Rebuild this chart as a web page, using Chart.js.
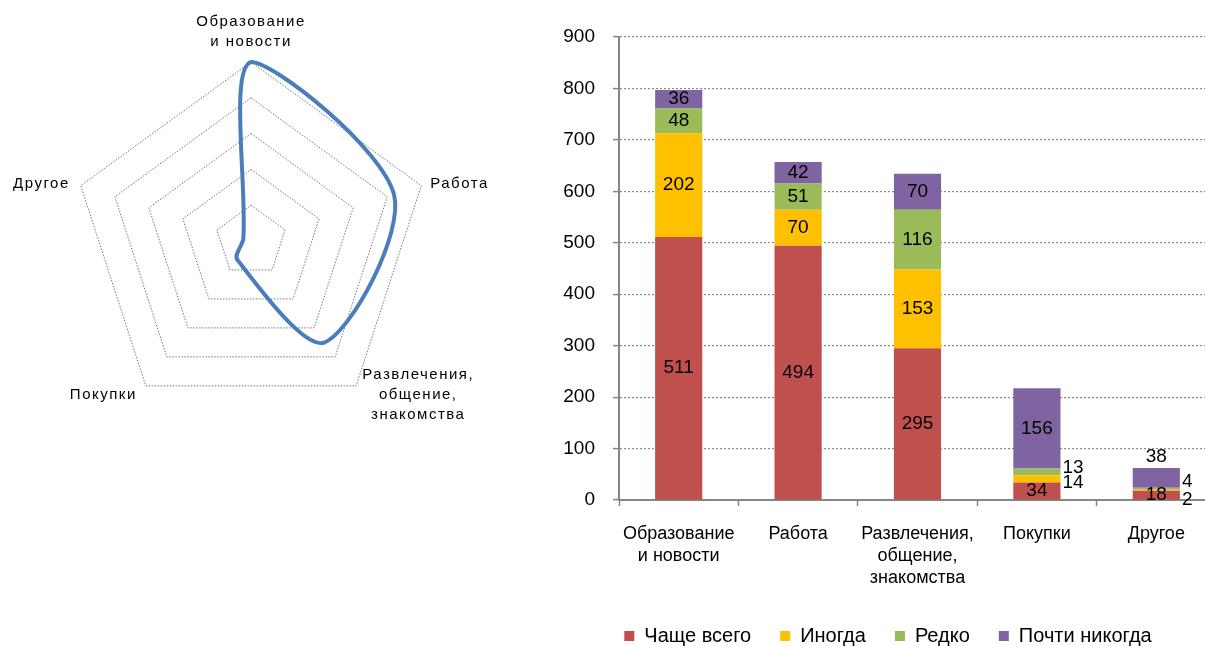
<!DOCTYPE html>
<html>
<head>
<meta charset="utf-8">
<script src="https://cdn.jsdelivr.net/npm/chart.js@4/dist/chart.umd.min.js"></script>
<style>
  html, body { margin: 0; padding: 0; background: #fff; overflow: hidden; width: 1205px; height: 646px; position: relative; }
  #radarBox { position: absolute; left: 0; top: 0; width: 502px; height: 483px; }
  #barBox { position: absolute; left: 560px; top: 0; width: 662px; height: 656px; }
</style>
</head>
<body>
<div id="radarBox"><canvas id="radar"></canvas></div>
<div id="barBox"><canvas id="bars"></canvas></div>
<script>
// Categories (multi-line labels)
const categories = [
  ['Образование', 'и новости'],
  ['Работа'],
  ['Развлечения,', 'общение,', 'знакомства'],
  ['Покупки'],
  ['Другое']
];

// Stacked series
const seriesNames = ['Чаще всего', 'Иногда', 'Редко', 'Почти никогда'];
const oftenValues = [511, 494, 295, 34, 18];
const sometimesValues = [202, 70, 153, 14, 2];
const rarelyValues = [48, 51, 116, 13, 4];
const almostNeverValues = [36, 42, 70, 156, 38];
const seriesColors = ['#C0504D', '#FFC000', '#9BBB59', '#8064A2'];

// Radar: overall usage index per category (0–100)
const radarValues = [100, 84, 70, 13, 4.5];

// Value axis
const yMin = 0, yMax = 900, yStep = 100;

const FONT = '"Liberation Sans", Arial, sans-serif';

// ---------- Radar ----------
// Point label placement relative to each outer vertex
const radarLabelLayout = [
  { align: 'center', dx: 0,   dy: -40 },
  { align: 'left',   dx: 9,   dy: -2 },
  { align: 'center', dx: 62,  dy: -11 },
  { align: 'right',  dx: -9,  dy: 9 },
  { align: 'right',  dx: -11, dy: -2 }
];

const radarPointLabels = {
  id: 'radarPointLabels',
  afterDraw(chart) {
    const scale = chart.scales.r;
    const ctx = chart.ctx;
    ctx.save();
    ctx.font = '15px ' + FONT;
    ctx.fillStyle = '#000';
    ctx.textBaseline = 'middle';
    if ('letterSpacing' in ctx) ctx.letterSpacing = '1.5px';
    categories.forEach((lines, i) => {
      const p = scale.getPointPosition(i, scale.drawingArea);
      const lay = radarLabelLayout[i];
      ctx.textAlign = lay.align;
      lines.forEach((t, k) => {
        ctx.fillText(t, p.x + lay.dx, p.y + lay.dy + k * 20);
      });
    });
    ctx.restore();
  }
};

new Chart(document.getElementById('radar'), {
  type: 'radar',
  data: {
    labels: categories,
    datasets: [{
      data: radarValues,
      borderColor: '#4A7EBB',
      borderWidth: 4,
      fill: false,
      pointRadius: 0,
      tension: 0.3
    }]
  },
  options: {
    responsive: true,
    maintainAspectRatio: false,
    animation: false,
    layout: { padding: { left: 72, right: 72, top: 62, bottom: 63 } },
    plugins: { legend: { display: false }, tooltip: { enabled: false } },
    scales: {
      r: {
        min: 0,
        max: 100,
        ticks: { stepSize: 20, display: false },
        angleLines: { display: false },
        grid: { color: '#777777', lineWidth: 1 },
        border: { dash: [1.5, 1.5] },
        pointLabels: { display: false }
      }
    }
  },
  plugins: [radarPointLabels]
});

// ---------- Stacked bars ----------
// Labels that sit beside or above thin segments: key = "category-series"
const labelPlacement = {
  '3-1': { side: 'right', dy: 4 },
  '3-2': { side: 'right', dy: -4 },
  '4-1': { side: 'right', dy: 9.5 },
  '4-2': { side: 'right', dy: -7 },
  '4-3': { side: 'top', dy: -11 }
};

const barValueLabels = {
  id: 'barValueLabels',
  afterDatasetsDraw(chart) {
    const ctx = chart.ctx;
    ctx.save();
    ctx.font = '19px ' + FONT;
    ctx.fillStyle = '#000';
    ctx.textBaseline = 'middle';
    chart.data.datasets.forEach((ds, d) => {
      const meta = chart.getDatasetMeta(d);
      meta.data.forEach((bar, i) => {
        const { x, y, base, width } = bar.getProps(['x', 'y', 'base', 'width'], true);
        let tx = x, ty = (y + base) / 2;
        ctx.textAlign = 'center';
        const p = labelPlacement[i + '-' + d];
        if (p && p.side === 'right') {
          tx = x + width / 2 + 2;
          ty += p.dy;
          ctx.textAlign = 'left';
        } else if (p && p.side === 'top') {
          ty = y + p.dy;
        }
        ctx.fillText(String(ds.data[i]), tx, ty);
      });
    });
    ctx.restore();
  }
};

const seriesData = [oftenValues, sometimesValues, rarelyValues, almostNeverValues];

new Chart(document.getElementById('bars'), {
  type: 'bar',
  data: {
    labels: categories,
    datasets: seriesNames.map((name, k) => ({
      label: name,
      data: seriesData[k],
      backgroundColor: seriesColors[k],
      borderWidth: 0,
      categoryPercentage: 1,
      barPercentage: 0.395
    }))
  },
  options: {
    responsive: true,
    maintainAspectRatio: false,
    animation: false,
    layout: { padding: { left: 0, right: 6, top: 37, bottom: 0 } },
    plugins: {
      tooltip: { enabled: false },
      legend: {
        position: 'bottom',
        labels: {
          boxWidth: 10,
          boxHeight: 10,
          padding: 29,
          color: '#000',
          font: { family: FONT, size: 20 }
        }
      }
    },
    scales: {
      x: {
        stacked: true,
        grid: {
          display: true,
          drawOnChartArea: false,
          drawTicks: true,
          tickLength: 6,
          tickColor: '#868686',
          tickWidth: 1.5,
          offset: true
        },
        border: { display: true, color: '#868686', width: 2 },
        ticks: {
          color: '#000',
          padding: 17,
          maxRotation: 0,
          autoSkip: false,
          font: { family: FONT, size: 18, lineHeight: 1.22 }
        },
        afterFit(s) { s.height = 97; }
      },
      y: {
        stacked: true,
        min: yMin,
        max: yMax,
        ticks: {
          stepSize: yStep,
          color: '#000',
          padding: 18,
          font: { family: FONT, size: 19 }
        },
        grid: {
          color: (c) => (c.tick && c.tick.value === 0 ? 'rgba(0,0,0,0)' : '#8a8a8a'),
          lineWidth: 1.2,
          tickColor: '#868686',
          tickWidth: 1.5,
          tickLength: 6,
          tickBorderDash: []
        },
        border: { display: true, color: '#868686', width: 2, dash: [2, 2] },
        afterFit(s) { s.width = 59; }
      }
    }
  },
  plugins: [barValueLabels]
});
</script>
</body>
</html>
